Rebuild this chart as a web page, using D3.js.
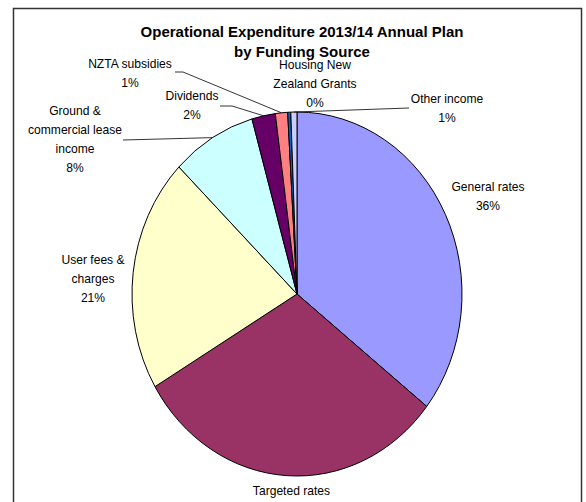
<!DOCTYPE html>
<html>
<head>
<meta charset="utf-8">
<script src="https://cdn.jsdelivr.net/npm/d3@7"></script>
<style>
  html, body { margin: 0; padding: 0; background: #fff; }
  svg { display: block; font-family: "Liberation Sans", Arial, sans-serif; }
</style>
</head>
<body>
<svg id="chart" width="586" height="502"></svg>
<script>
// ---- data ----
const categories = ["General rates", "Targeted rates", "User fees & charges",
  "Ground & commercial lease income", "Dividends", "NZTA subsidies",
  "Housing New Zealand Grants", "Other income"];
const values = [35.6, 30.9, 20.8, 8.3, 2.3, 1.2, 0.3, 0.6];
const labelLines = [["General rates"], ["Targeted rates"], ["User fees &", "charges"],
  ["Ground &", "commercial lease", "income"], ["Dividends"], ["NZTA subsidies"],
  ["Housing New", "Zealand Grants"], ["Other income"]];
const titleLines = ["Operational Expenditure 2013/14 Annual Plan", "by Funding Source"];

// ---- styles / layout ----
const colors = ["#9999FF", "#993366", "#FFFFCC", "#CCFFFF", "#660066", "#FF8080", "#0066CC", "#CCCCFF"];
const labelPos = [[488, 191], [291.5, 495], [93, 264], [75, 115], [192, 100], [130, 68], [315, 69], [447, 103]];
// leader line start points (label side); null = no leader
const leaderStart = [null, null, null, [[123, 140]], [[220, 106], [232, 106]],
  [[175, 72], [183, 72]], null, [[409, 108]]];
const cx = 297, cy = 294, rx = 165, ry = 182;
const lineH = 19, textScale = 0.93;

const svg = d3.select("#chart");

// frame
svg.append("rect").attr("x", 13.5).attr("y", 8.5).attr("width", 568).attr("height", 510)
  .attr("fill", "#fff").attr("stroke", "#333").attr("stroke-width", 1.5);

// title
svg.append("g").selectAll("text").data(titleLines).join("text")
  .attr("x", 302).attr("y", (d, i) => 37 + i * 20)
  .attr("text-anchor", "middle").attr("font-size", 15).attr("font-weight", "bold")
  .attr("fill", "#000").text(d => d);

// pie
const total = d3.sum(values);
const pie = d3.pie().sort(null).value(d => d)(values);
const arc = d3.arc().innerRadius(0).outerRadius(ry);
const pg = svg.append("g").attr("transform", `translate(${cx},${cy}) scale(${rx / ry},1)`);
pg.selectAll("path").data(pie).join("path")
  .attr("d", arc).attr("fill", (d, i) => colors[i])
  .attr("stroke", "#000").attr("stroke-width", 1)
  .attr("vector-effect", "non-scaling-stroke");

// leader lines
const edgePoint = d => {
  const a = (d.startAngle + d.endAngle) / 2;
  return [cx + rx * Math.sin(a), cy - ry * Math.cos(a)];
};
const lg = svg.append("g");
pie.forEach((d, i) => {
  if (!leaderStart[i]) return;
  const pts = leaderStart[i].concat([edgePoint(d)]);
  lg.append("path").attr("d", d3.line()(pts))
    .attr("fill", "none").attr("stroke", "#000").attr("stroke-width", 0.8);
});

// labels
const fmt = v => Math.round(v / total * 100) + "%";
const tg = svg.append("g").attr("font-size", 13).attr("fill", "#000");
values.forEach((v, i) => {
  const lines = labelLines[i].concat([fmt(v)]);
  const [x, y] = labelPos[i];
  lines.forEach((t, j) => {
    tg.append("text")
      .attr("transform", `translate(${x},${y + j * lineH}) scale(${textScale},1)`)
      .attr("text-anchor", "middle").text(t);
  });
});
</script>
</body>
</html>
